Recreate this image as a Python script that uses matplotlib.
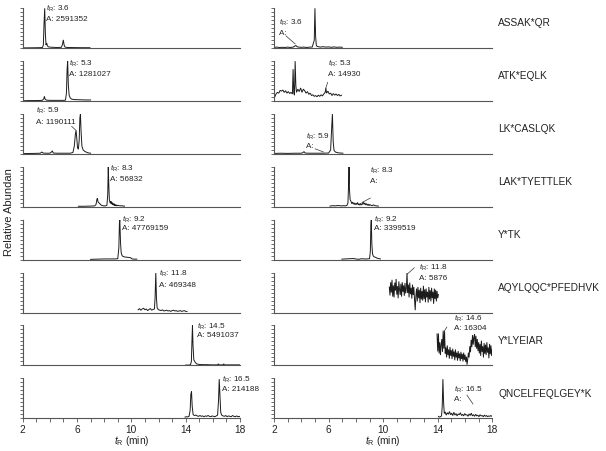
import matplotlib
matplotlib.use("Agg")
import matplotlib.pyplot as plt
from matplotlib.ticker import MultipleLocator, FixedLocator

plt.rcParams['font.family'] = ['Liberation Sans', 'DejaVu Sans']
plt.rcParams['mathtext.fontset'] = 'custom'
plt.rcParams['mathtext.rm'] = 'Liberation Sans'
plt.rcParams['mathtext.it'] = 'Liberation Sans:italic'

# ---------------- data (retention time in min, relative abundance in %) ----------------
peptides = ["ASSAK*QR", "ATK*EQLK", "LK*CASLQK", "LAK*TYETTLEK",
            "Y*TK", "AQYLQQC*PFEDHVK", "Y*LYEIAR", "QNCELFEQLGEY*K"]

rt_left = ["3.6", "5.3", "5.9", "8.3", "9.2", "11.8", "14.5", "16.5"]
area_left = ["2591352", "1281027", "1190111", "56832", "47769159", "469348", "5491037", "214188"]
rt_right = ["3.6", "5.3", "5.9", "8.3", "9.2", "11.8", "14.6", "16.5"]
area_right = ["", "14930", "", "", "3399519", "5876", "16304", ""]

t1L = [2.0, 2.6, 3.2, 3.45, 3.52, 3.57, 3.62, 3.67, 3.72, 3.77, 3.82, 3.9, 4.0, 4.2, 4.5, 4.85, 4.93, 4.99, 5.05, 5.12, 5.3, 5.8, 6.4, 6.95]
y1L = [1.0, 1.2, 1.5, 2.0, 8.0, 60.0, 100.0, 35.0, 8.0, 13.0, 6.0, 3.5, 3.0, 2.5, 2.0, 2.5, 10.0, 21.0, 8.0, 3.0, 2.0, 1.8, 1.5, 1.5]
t1R = [2.0, 2.2, 2.4, 2.6, 2.8, 3.0, 3.2, 3.4, 3.5, 3.6, 3.7, 3.8, 4.0, 4.2, 4.4, 4.6, 4.8, 4.95, 5.0, 5.05, 5.1, 5.15, 5.25, 5.4, 5.6, 5.8, 6.0, 6.2, 6.4, 6.6, 6.8, 7.0]
y1R = [2, 3, 2, 2.5, 2, 3, 2, 3, 5, 7, 4, 3, 2.5, 3, 2, 3, 3, 20, 100, 30, 8, 5, 4, 3, 4, 3, 3.5, 2.5, 3.5, 2.5, 3, 2.5]

t2L = [2.0, 2.5, 3.0, 3.45, 3.55, 3.6, 3.65, 3.75, 4.0, 4.5, 5.0, 5.15, 5.22, 5.27, 5.31, 5.36, 5.42, 5.5, 5.6, 5.8, 6.2, 6.6, 7.0]
y2L = [1, 1.5, 1.5, 2, 6, 12, 5, 2.5, 2, 2, 2, 2.5, 20, 80, 100, 40, 15, 8, 5, 4, 3.5, 3, 3]
t2R = [2.05, 2.15, 2.25, 2.35, 2.45, 2.55, 2.65, 2.75, 2.85, 2.95, 3.05, 3.15, 3.25, 3.35, 3.4, 3.45, 3.5, 3.55, 3.6, 3.65,
       3.75, 3.85, 3.95, 4.05, 4.15, 4.25, 4.35, 4.45, 4.55, 4.65, 4.75, 4.85, 4.95, 5.05, 5.15, 5.25, 5.35, 5.45, 5.55, 5.65,
       5.75, 5.8, 5.85, 5.95, 6.05, 6.15, 6.25, 6.35, 6.45, 6.55, 6.65, 6.75, 6.85, 6.95]
y2R = [10, 18, 22, 20, 27, 25, 28, 22, 26, 20, 24, 19, 22, 18, 80, 20, 15, 100, 40, 22,
       30, 24, 33, 22, 30, 26, 20, 24, 17, 20, 14, 16, 12, 14, 11, 15, 12, 16, 13, 18,
       22, 33, 20, 25, 18, 20, 14, 19, 15, 18, 14, 17, 13, 15]

t3L = [2.0, 2.8, 3.3, 3.4, 3.5, 3.7, 4.0, 4.12, 4.18, 4.25, 4.5, 5.0, 5.5, 5.7, 5.8, 5.88, 5.93, 5.98, 6.04, 6.1, 6.16, 6.21, 6.25, 6.3, 6.36, 6.45, 6.6, 6.8, 7.0]
y3L = [1, 1.5, 2, 5, 2.5, 2, 2, 5, 8, 2.5, 2, 2, 2, 4, 20, 50, 59, 40, 15, 12, 35, 90, 100, 55, 20, 10, 6, 3, 2]
t3R = [2.0, 2.5, 3.0, 3.5, 4.0, 4.12, 4.2, 4.28, 4.5, 5.0, 5.5, 6.0, 6.15, 6.22, 6.28, 6.34, 6.4, 6.5, 6.7, 7.05]
y3R = [1.5, 2, 1.5, 2, 2, 3.5, 6, 2.5, 2, 2, 2, 2.5, 10, 60, 100, 30, 9, 5, 3, 2]

t4L = [6.1, 6.5, 7.0, 7.3, 7.4, 7.46, 7.5, 7.55, 7.62, 7.7, 7.8, 7.95, 8.1, 8.2, 8.26, 8.3, 8.34, 8.38, 8.42, 8.46,
       8.5, 8.54, 8.58, 8.62, 8.66, 8.7, 8.74, 8.78, 8.82, 8.86, 8.9, 8.95, 9.0, 9.1, 9.2, 9.3, 9.4, 9.5]
y4L = [1.5, 1.5, 2, 2.5, 6, 18, 22, 12, 10, 7, 4, 2.5, 2.5, 4, 30, 100, 55, 18, 12, 9,
       14, 7, 11, 5, 9, 4, 8, 3, 6, 2.5, 5, 2.5, 4, 3, 2.5, 3, 2, 2]
t4R = [6.1, 6.3, 6.5, 6.7, 6.9, 7.1, 7.25, 7.35, 7.42, 7.47, 7.5, 7.53, 7.58, 7.64, 7.7, 7.76, 7.82, 7.88, 7.94, 8.0,
       8.06, 8.12, 8.18, 8.24, 8.3, 8.36, 8.42, 8.48, 8.54, 8.6, 8.66, 8.72, 8.78, 8.84, 8.9, 8.96, 9.02, 9.1, 9.2, 9.3,
       9.4, 9.5, 9.65]
y4R = [2, 3, 2.5, 3.5, 2.5, 3, 2.5, 4, 10, 60, 100, 45, 18, 14, 8, 12, 7, 10, 5, 9,
       6, 11, 5, 8, 4, 9, 5, 7, 12, 6, 10, 5, 8, 4, 7, 3, 6, 4, 3, 5,
       3, 2.5, 2]

t5L = [7.0, 7.5, 8.0, 8.5, 8.8, 9.0, 9.08, 9.12, 9.15, 9.2, 9.25, 9.32, 9.4, 9.5, 9.6, 9.75, 9.95, 10.05, 10.2, 10.4]
y5L = [1, 1.5, 2, 2, 2, 2.5, 30, 90, 100, 45, 18, 10, 8, 7, 6.5, 6, 5, 2, 1.5, 1.5]
t5R = [6.97, 7.2, 7.5, 7.8, 8.0, 8.2, 8.4, 8.6, 8.8, 9.0, 9.06, 9.1, 9.13, 9.17, 9.22, 9.28, 9.35, 9.45, 9.55, 9.65, 9.8]
y5R = [1.5, 2, 2.5, 3, 2, 1, 2.5, 2, 2, 2.5, 20, 85, 100, 40, 15, 9, 7, 6, 4, 3, 2]

t6L = [10.5, 10.6, 10.7, 10.8, 10.9, 11.0, 11.1, 11.2, 11.3, 11.4, 11.5, 11.6, 11.7, 11.75, 11.8, 11.85, 11.9, 12.0, 12.1, 12.2,
       12.3, 12.4, 12.5, 12.6, 12.7, 12.8, 12.9, 13.0, 13.1, 13.2, 13.3, 13.4, 13.5, 13.6, 13.7, 13.8, 13.9, 14.0, 14.1]
y6L = [7, 10, 6, 9, 11, 7, 9, 5, 8, 10, 6, 8, 9, 40, 100, 35, 12, 7, 6, 5,
       7, 4, 5, 6, 4, 5, 3, 5, 6, 4, 5, 3, 4, 5, 3, 4, 5, 3, 3]
t6R = [10.45, 10.5, 10.55, 10.6, 10.65, 10.7, 10.75, 10.8, 10.85, 10.9,
       10.95, 11.0, 11.05, 11.1, 11.15, 11.2, 11.25, 11.3, 11.35, 11.4,
       11.45, 11.5, 11.55, 11.6, 11.65, 11.7, 11.75, 11.8, 11.85, 11.9,
       11.95, 12.0, 12.05, 12.1, 12.15, 12.2, 12.25, 12.3, 12.35, 12.4,
       12.45, 12.5, 12.55, 12.6, 12.65, 12.7, 12.75, 12.8, 12.85, 12.9,
       12.95, 13.0, 13.05, 13.1, 13.15, 13.2, 13.25, 13.3, 13.35, 13.4,
       13.45, 13.5, 13.55, 13.6, 13.65, 13.7, 13.75, 13.8, 13.85, 13.9,
       13.95, 14.0, 14.05]
y6R = [64, 43, 76, 50, 82, 40, 68, 38, 75, 55,
       84, 45, 66, 36, 78, 58, 44, 72, 40, 76,
       52, 68, 42, 74, 48, 60, 100, 50, 70, 38,
       75, 46, 62, 35, 70, 44, 64, 32, 6, 42,
       60, 28, 64, 36, 57, 24, 62, 33, 54, 30,
       67, 34, 58, 26, 60, 38, 52, 25, 64, 33,
       56, 28, 62, 36, 52, 22, 60, 34, 57, 28,
       54, 36, 45]

t7L = [14.0, 14.2, 14.35, 14.42, 14.47, 14.5, 14.54, 14.6, 14.7, 14.8, 15.0, 15.3, 15.6, 15.9, 16.2, 16.35, 16.4, 16.45, 16.6, 16.75,
       16.8, 16.85, 17.0, 17.3, 17.6, 18.0]
y7L = [1, 1, 1.5, 10, 70, 100, 50, 14, 8, 4, 2.5, 2, 2, 1.5, 1.5, 1.5, 4, 1.5, 1.5, 1.5,
       4, 1.5, 1.5, 1.5, 1.5, 1.5]
t7R = [13.95, 14.0, 14.05, 14.1, 14.15, 14.2, 14.25, 14.3, 14.35, 14.4, 14.45,
       14.5, 14.55, 14.6, 14.65, 14.7, 14.75, 14.8, 14.85, 14.9, 14.95,
       15.0, 15.05, 15.1, 15.15, 15.2, 15.25, 15.3, 15.35, 15.4, 15.45,
       15.5, 15.55, 15.6, 15.65, 15.7, 15.75, 15.8, 15.85, 15.9, 15.95,
       16.0, 16.05, 16.1, 16.15, 16.2, 16.25, 16.3, 16.35, 16.4, 16.45,
       16.5, 16.55, 16.6, 16.65, 16.7, 16.75, 16.8, 16.85, 16.9, 16.95,
       17.0, 17.05, 17.1, 17.15, 17.2, 17.25, 17.3, 17.35, 17.4, 17.45,
       17.5, 17.55, 17.6, 17.65, 17.7, 17.75, 17.8, 17.85, 17.9, 17.95,
       18.0]
y7R = [79, 35, 80, 30, 58, 26, 52, 66, 34, 87, 42,
       86, 30, 45, 20, 50, 26, 40, 17, 46, 24,
       38, 16, 42, 22, 35, 13, 40, 20, 32, 12,
       36, 18, 30, 11, 34, 16, 29, 10, 32, 14,
       27, 9, 22, 2, 16, 32, 20, 48, 33, 64,
       46, 76, 52, 70, 78, 46, 74, 42, 66, 36,
       58, 30, 54, 24, 62, 34, 48, 20, 56, 29,
       52, 26, 58, 32, 45, 18, 54, 28, 50, 24,
       40]

t8L = [13.95, 14.05, 14.15, 14.25, 14.33, 14.38, 14.43, 14.48, 14.55, 14.65, 14.75, 14.85, 14.95,
       15.05, 15.15, 15.25, 15.35, 15.45, 15.55, 15.65, 15.75, 15.85, 15.95,
       16.05, 16.15, 16.25, 16.35, 16.42, 16.47, 16.52, 16.58, 16.65, 16.75, 16.85, 16.95,
       17.05, 17.15, 17.25, 17.35, 17.45, 17.55, 17.65, 17.75, 17.85, 17.95, 18.0]
y8L = [3, 4, 3.5, 5, 20, 60, 67, 30, 9, 7, 8, 6, 5,
       7, 5, 6, 4, 6, 5, 7, 5, 4, 6,
       5, 4, 6, 8, 45, 98, 60, 15, 8, 6, 5, 7,
       4, 6, 5, 4, 7, 5, 4, 6, 4, 5, 4]
t8R = [14.05, 14.1, 14.2, 14.28, 14.33, 14.38, 14.43, 14.48, 14.55, 14.62,
       14.7, 14.78, 14.86, 14.94, 15.02, 15.1, 15.18, 15.26, 15.34, 15.42,
       15.5, 15.58, 15.66, 15.74, 15.82, 15.9, 15.98, 16.06, 16.14, 16.22,
       16.3, 16.38, 16.46, 16.54, 16.62, 16.7, 16.78, 16.86, 16.94, 17.02,
       17.1, 17.18, 17.26, 17.34, 17.42, 17.5, 17.58, 17.66, 17.74, 17.82,
       17.9, 18.0]
y8R = [5, 3, 4, 6, 30, 98, 40, 12, 16, 8,
       14, 10, 17, 9, 13, 7, 15, 8, 12, 6,
       11, 9, 14, 7, 10, 6, 12, 8, 9, 5,
       11, 7, 13, 6, 9, 5, 10, 6, 8, 4,
       9, 6, 7, 4, 8, 5, 7, 4, 6, 5,
       7, 4]

left_traces = [(t1L, y1L), (t2L, y2L), (t3L, y3L), (t4L, y4L), (t5L, y5L), (t6L, y6L), (t7L, y7L), (t8L, y8L)]
right_traces = [(t1R, y1R), (t2R, y2R), (t3R, y3R), (t4R, y4R), (t5R, y5R), (t6R, y6R), (t7R, y7R), (t8R, y8R)]

# annotation placement: (text x, line1 y, line2 y, leader or None)
left_ann = [(3.69, 98, 73, None), (5.43, 94, 67, None), (2.98, 107, 79, (5.61, 69, 5.93, 59)),
            (8.43, 96, 69, None), (9.29, 100, 79, None), (12.06, 96, 69, None),
            (14.8, 96, 75, None), (16.65, 96, 71, None)]
right_ann = [(2.37, 63, 38, (2.88, 31, 3.55, 11)), (5.94, 93, 67, (5.93, 47, 5.8, 33)),
             (4.33, 44, 19, (5.02, 13, 5.63, 5)), (9.06, 89, 64, (9.06, 22, 8.45, 11)),
             (9.31, 100, 78, None), (12.6, 112, 86, (12.28, 112, 11.76, 96)),
             (15.16, 117, 92, (14.67, 96, 14.5, 87)), (15.16, 71, 47, (16.14, 58, 16.58, 36))]

# ---------------- figure ----------------
W, H = 606, 451
fig = plt.figure(figsize=(W / 100, H / 100), dpi=100)
fig.patch.set_facecolor('white')

TRACE = '#1c1c1c'
AXC = '#555555'
ANN_FS = 5.9

col_x = [(22.7, 217.3), (274.0, 218.3)]

def style_axis(ax, bottom):
    ax.set_xlim(2, 18)
    ax.set_ylim(0, 100)
    for s in ['top', 'right']:
        ax.spines[s].set_visible(False)
    for s in ['left', 'bottom']:
        ax.spines[s].set_color(AXC)
        ax.spines[s].set_linewidth(0.8)
    ax.yaxis.set_major_locator(FixedLocator([0, 10, 20, 30, 40, 50, 60, 70, 80, 90, 100]))
    ax.tick_params(axis='y', which='both', direction='out', length=2.5, width=0.6,
                   colors=AXC, labelleft=False)
    if bottom:
        ax.xaxis.set_major_locator(FixedLocator([2, 6, 10, 14, 18]))
        ax.xaxis.set_minor_locator(MultipleLocator(1))
        ax.tick_params(axis='x', which='both', direction='out', length=3, width=0.6,
                       colors=AXC, labelcolor='#222222', labelsize=7.3, pad=1.5)
    else:
        ax.tick_params(axis='x', which='both', length=0, labelbottom=False)
    ax.patch.set_alpha(0)

def annotate(ax, ann, rt, area):
    tx, ya, yb, leader = ann
    ax.text(tx, ya, r"$t_\mathrm{R}$: " + rt, fontsize=ANN_FS, va='center', ha='left',
            color='#222222', clip_on=False)
    ax.text(tx, yb, "A: " + area, fontsize=ANN_FS, va='center', ha='left',
            color='#222222', clip_on=False)
    if leader is not None:
        x0, y0, x1, y1 = leader
        ax.plot([x0, x1], [y0, y1], color='#333333', lw=0.5, clip_on=False)

for i in range(8):
    baseline = 48.3 + 52.86 * i
    bottom = 1 - baseline / H
    height = 40.0 / H
    for c in range(2):
        x0, w = col_x[c]
        ax = fig.add_axes([x0 / W, bottom, w / W, height])
        style_axis(ax, i == 7)
        t, y = (left_traces if c == 0 else right_traces)[i]
        ax.plot(t, y, color=TRACE, lw=0.7, solid_joinstyle='miter')
        if c == 0:
            annotate(ax, left_ann[i], rt_left[i], area_left[i])
        else:
            annotate(ax, right_ann[i], rt_right[i], area_right[i])
            ax.text(1.027, 0.62, peptides[i], transform=ax.transAxes, fontsize=7.3,
                    va='center', ha='left', color='#222222')

# axis labels
for xc in [22.7 + 217.3 / 2, 274.0 + 218.3 / 2]:
    fig.text(xc / W, 1 - 440.5 / H, r"$t_\mathrm{R}$ (min)", fontsize=7.3,
             ha='center', va='center', color='#222222')
fig.text(9 / W, 1 - 211.7 / H, "Relative Abundan", rotation=90, fontsize=8,
         ha='center', va='center', color='#222222')

fig.savefig("out.png", dpi=100, facecolor='white')
